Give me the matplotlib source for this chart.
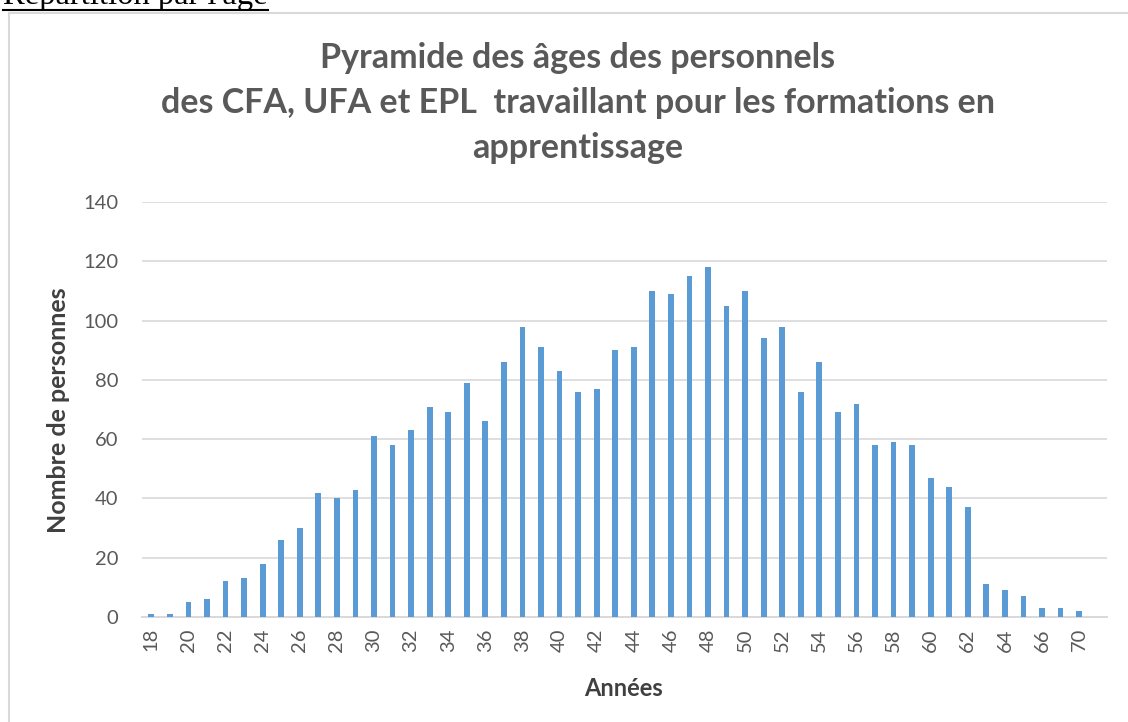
import matplotlib
matplotlib.use("Agg")
import matplotlib.pyplot as plt
from matplotlib.lines import Line2D

ages = [str(a) for a in range(18, 67)] + ["68", "70"]
counts = [1, 1, 5, 6, 12, 13, 18, 26, 30, 42, 40, 43, 61, 58, 63, 71, 69, 79, 66, 86,
          98, 91, 83, 76, 77, 90, 91, 110, 109, 115, 118, 105, 110, 94, 98, 76, 86, 69, 72,
          58, 59, 58, 47, 44, 37, 11, 9, 7, 3, 3, 2]
title_lines = ["Pyramide des âges des personnels",
               "des CFA, UFA et EPL  travaillant pour les formations en",
               "apprentissage"]

W, H = 1128, 722
plt.rcParams['font.family'] = ['Lato', 'DejaVu Sans']

fig = plt.figure(figsize=(W / 100, H / 100), dpi=100)
ax = fig.add_axes([142 / W, 1 - 617 / H, (1107 - 142) / W, (617 - 202) / H])

x = list(range(len(ages)))
ax.bar(x, counts, width=0.31, color="#5B9BD5", zorder=3)
ax.set_xlim(-0.5, len(ages) + 0.5)
ax.set_ylim(0, 140)
ax.set_yticks(range(0, 141, 20))
ax.set_xticks(x[::2])
ax.set_xticklabels(ages[::2], rotation=90)
ax.tick_params(axis="both", length=0, colors="#595959", labelsize=14.5)
ax.tick_params(axis="y", pad=17)
ax.tick_params(axis="x", pad=8)
ax.grid(axis="y", color="#D9D9D9", linewidth=1.2, zorder=0)
for s in ["top", "right", "left"]:
    ax.spines[s].set_visible(False)
ax.spines["bottom"].set_color("#D9D9D9")
ax.spines["bottom"].set_linewidth(1.4)

ax.set_ylabel("Nombre de personnes", fontsize=18, fontweight="bold", color="#404040")
ax.yaxis.set_label_coords(59 / W, 1 - 410 / H, transform=fig.transFigure)
ax.set_xlabel("Années", fontsize=17, fontweight="bold", color="#404040")
ax.xaxis.set_label_coords(623 / W, 1 - 688 / H, transform=fig.transFigure)
ax.xaxis.label.set_va("center")
ax.yaxis.label.set_va("center")

for i, line in enumerate(title_lines):
    fig.text(578 / W, 1 - (68 + 45 * i) / H, line, ha="center", va="baseline",
             fontsize=24.5, fontweight="bold", color="#595959")

# frame of the chart object
fig.add_artist(Line2D([8.5 / W, 8.5 / W], [0, 1 - 12.5 / H], color="#D9D9D9", linewidth=1.5))
fig.add_artist(Line2D([8.5 / W, 1], [1 - 12.5 / H, 1 - 12.5 / H], color="#D9D9D9", linewidth=1.5))

# heading of the page, cut at the top
fig.text(3 / W, 1 - 4 / H, "Répartition par l'âge", ha="left", va="baseline",
         fontsize=23.5, family="Liberation Serif", color="black")
fig.add_artist(Line2D([3 / W, 268 / W], [1 - 10 / H, 1 - 10 / H], color="black", linewidth=1.5))

fig.savefig("out.png", dpi=100)
